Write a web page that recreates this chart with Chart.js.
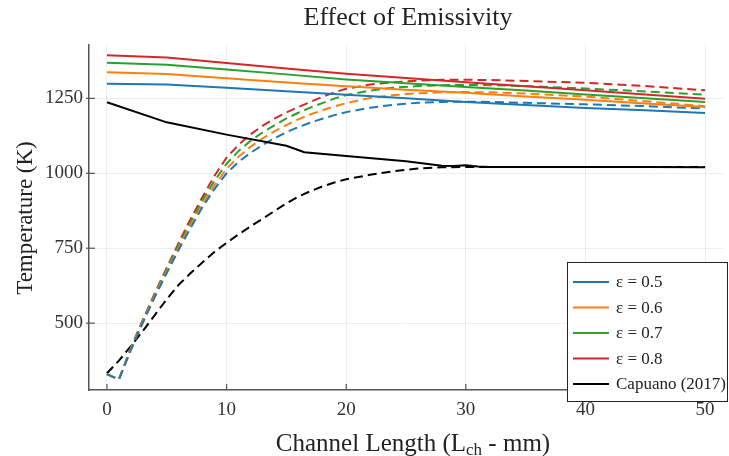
<!DOCTYPE html>
<html>
<head>
<meta charset="utf-8">
<script src="https://cdn.jsdelivr.net/npm/chart.js@4.4.1/dist/chart.umd.min.js"></script>
<style>
html,body{margin:0;padding:0;background:#fff;}
#wrap{width:729px;height:456px;}
</style>
</head>
<body>
<div id="wrap"><canvas id="c" width="729" height="456"></canvas></div>
<script>
const labels = ["ε = 0.5","ε = 0.6","ε = 0.7","ε = 0.8","Capuano (2017)"];
const colors = ["#1f77b4","#ff7f0e","#2ca02c","#d62728","#000000"];

const solidX = [0,5,10,15,20,25,30,35,40,45,50];
const blueSolid   = [1299,1296,1285,1274,1262,1250,1238,1228,1218,1210,1201];
const orangeSolid = [1337,1331,1317,1303,1290,1279,1269,1256,1245,1233,1221];
const greenSolid  = [1369,1362,1346,1330,1313,1300,1288,1276,1263,1250,1238];
const redSolid    = [1394,1386,1368,1350,1332,1318,1304,1290,1277,1263,1249];

const dashX = [0,1,2,3,4,5,6,7,8,9,10,11,12,13,14,15,16,17,18,19,20,22,24,26,28,30,32,35,40,45,50];
const blueDash   = [330,312,410,501,587,667,745,818,888,948,1000,1038,1068,1094,1117,1137,1154,1169,1182,1194,1204,1219,1229,1235,1238,1239,1238,1235,1230,1224,1216];
const orangeDash = [330,312,413,505,592,673,752,828,898,960,1015,1055,1088,1116,1140,1161,1180,1196,1210,1223,1234,1251,1261,1267,1270,1271,1270,1266,1256,1240,1224];
const greenDash  = [330,312,415,508,596,680,760,837,910,975,1032,1074,1108,1136,1160,1183,1202,1219,1234,1249,1261,1276,1286,1291,1294,1295,1294,1291,1283,1273,1262];
const redDash    = [330,312,418,512,600,685,768,848,922,992,1052,1095,1130,1158,1182,1203,1221,1238,1255,1270,1282,1296,1304,1309,1312,1312,1311,1308,1302,1291,1277];

const capSolidX = [0,5,10,15,16.5,20,25,28,29,30,31,32,35,40,45,50];
const capSolid  = [1237,1170,1129,1092,1070,1058,1040,1025,1024,1027,1023,1021,1021,1021,1021,1020];
const capDashX  = [0,1,2,3,4,5,6,7,8,9,10,11,12,13,14,15,16,17,18,19,20,22,24,26,28,30,35,40,45,50];
const capDash   = [333,375,423,474,527,580,628,667,703,738,768,796,823,848,874,900,922,940,956,969,980,995,1007,1016,1020,1021,1021,1021,1021,1021];

const xTicks = [0,10,20,30,40,50];
const yTicks = [500,750,1000,1250];

function pts(xs, ys){ return xs.map((x,i)=>({x:x,y:ys[i]})); }

const solids = [blueSolid,orangeSolid,greenSolid,redSolid];
const dashes = [blueDash,orangeDash,greenDash,redDash];

const datasets = [];
for(let i=0;i<4;i++){
  datasets.push({label:labels[i],data:pts(solidX,solids[i]),borderColor:colors[i],borderWidth:2,inLegend:true});
}
datasets.push({label:labels[4],data:pts(capSolidX,capSolid),borderColor:colors[4],borderWidth:2,inLegend:true});
for(let i=0;i<4;i++){
  datasets.push({label:labels[i]+" d",data:pts(dashX,dashes[i]),borderColor:colors[i],borderWidth:2,borderDash:[9,5]});
}
datasets.push({label:labels[4]+" d",data:pts(capDashX,capDash),borderColor:colors[4],borderWidth:2,borderDash:[9,5]});
datasets.forEach(d=>{d.pointRadius=0;d.fill=false;d.tension=0;});

const SERIF = "'Liberation Serif','DejaVu Serif',serif";

const decor = {
  id:"decor",
  afterDraw(chart){
    const ctx = chart.ctx, a = chart.chartArea;
    const xs = chart.scales.x, ys = chart.scales.y;
    ctx.save();
    // inward ticks
    ctx.strokeStyle = "#555"; ctx.lineWidth = 1.2;
    xTicks.forEach(v=>{const p=xs.getPixelForValue(v);ctx.beginPath();ctx.moveTo(p,a.bottom);ctx.lineTo(p,a.bottom-6);ctx.stroke();});
    yTicks.forEach(v=>{const p=ys.getPixelForValue(v);ctx.beginPath();ctx.moveTo(a.left-3,p);ctx.lineTo(a.left+6,p);ctx.stroke();});
    // title
    ctx.fillStyle = "#222";
    ctx.font = "26px " + SERIF;
    ctx.textAlign = "center"; ctx.textBaseline = "alphabetic";
    ctx.fillText("Effect of Emissivity",408,25);
    // y title
    ctx.save();
    ctx.translate(32,218);
    ctx.rotate(-Math.PI/2);
    ctx.font = "23px " + SERIF;
    ctx.fillText("Temperature (K)",0,0);
    ctx.restore();
    // x title with subscript
    const big = "25px " + SERIF, small = "17px " + SERIF;
    const t1 = "Channel Length (L", t2 = "ch", t3 = " - mm)";
    ctx.font = big; const w1 = ctx.measureText(t1).width, w3 = ctx.measureText(t3).width;
    ctx.font = small; const w2 = ctx.measureText(t2).width;
    let x0 = 413 - (w1+w2+w3)/2;
    const base = 451;
    ctx.textAlign = "left";
    ctx.font = big; ctx.fillText(t1,x0,base); x0 += w1;
    ctx.font = small; ctx.fillText(t2,x0,base+4); x0 += w2;
    ctx.font = big; ctx.fillText(t3,x0,base);
    // legend
    const bx = 567, by = 262, bw = 161, bh = 140;
    ctx.fillStyle = "#fff"; ctx.fillRect(bx,by,bw,bh);
    ctx.strokeStyle = "#222"; ctx.lineWidth = 1;
    ctx.strokeRect(bx+0.5,by+0.5,bw-1,bh-1);
    ctx.font = "17px " + SERIF; ctx.textBaseline = "middle";
    chart.data.datasets.filter(d=>d.inLegend).forEach((d,i)=>{
      const yy = by + 20 + i*25.5;
      ctx.strokeStyle = d.borderColor; ctx.lineWidth = 2;
      ctx.beginPath(); ctx.moveTo(bx+6,yy); ctx.lineTo(bx+42,yy); ctx.stroke();
      ctx.fillStyle = "#222"; ctx.fillText(d.label,bx+49,yy+1);
    });
    ctx.restore();
  }
};

new Chart(document.getElementById("c"),{
  type:"line",
  data:{datasets:datasets},
  options:{
    responsive:false,
    animation:false,
    layout:{padding:{top:45,right:6,left:0,bottom:0}},
    plugins:{legend:{display:false},title:{display:false},tooltip:{enabled:false}},
    scales:{
      x:{
        type:"linear",min:-1.5,max:51.5,
        afterBuildTicks:s=>{s.ticks=xTicks.map(v=>({value:v}));},
        afterFit:s=>{s.height=66;},
        grid:{color:"rgba(0,0,0,0.07)",drawTicks:false},
        border:{color:"#555",width:1.5},
        ticks:{padding:9,color:"#333",font:{family:SERIF,size:19},callback:v=>String(v)}
      },
      y:{
        type:"linear",min:277,max:1428,
        afterBuildTicks:s=>{s.ticks=yTicks.map(v=>({value:v}));},
        afterFit:s=>{s.width=89;},
        grid:{color:"rgba(0,0,0,0.07)",drawTicks:false},
        border:{color:"#555",width:1.5},
        ticks:{padding:6,color:"#333",font:{family:SERIF,size:19},callback:v=>String(v)}
      }
    }
  },
  plugins:[decor]
});
</script>
</body>
</html>
